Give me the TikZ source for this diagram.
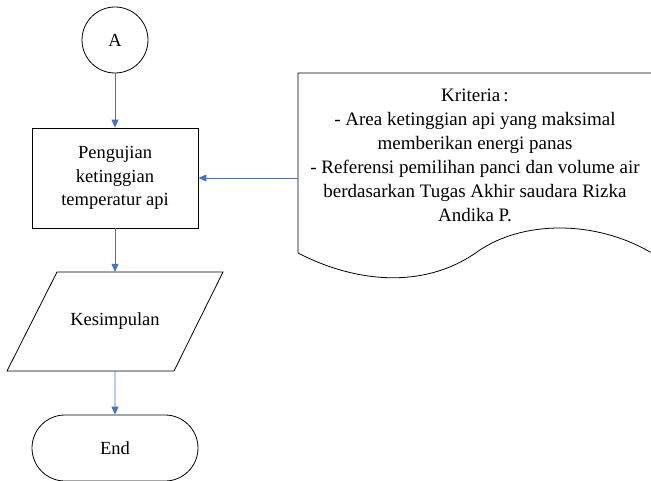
\documentclass[tikz,border=0pt]{standalone}
\usepackage{fontspec}
\setmainfont{Liberation Serif}
\usetikzlibrary{arrows.meta,shapes.geometric,shapes.misc}
\definecolor{arrowblue}{RGB}{68,114,196}
\tikzset{
  shapeline/.style={draw=black, line width=0.8pt},
  flowarrow/.style={draw=arrowblue, line width=0.9pt, -{Triangle[length=8pt,width=7pt]}},
  txt/.style={font=\fontsize{18.5}{23.5}\selectfont, align=center, inner sep=0pt},
}
\begin{document}
\begin{tikzpicture}[x=1pt,y=-1pt]
\useasboundingbox (0,0) rectangle (651,481);
% connector A
\node[shapeline, circle, minimum size=66pt, inner sep=0pt, txt] (A) at (115,40) {A};
% process box
\node[shapeline, rectangle, minimum width=166pt, minimum height=100pt, txt] (proc) at (115,178) {Pengujian\\ketinggian\\temperatur api};
% parallelogram (drawn), text node gives anchors
\draw[shapeline] (57,272) -- (223,272) -- (174,371) -- (7,371) -- cycle;
\node[rectangle, minimum width=166pt, minimum height=99pt, txt] (kes) at (115,321.5) {Kesimpulan};
% terminator
\node[shapeline, rounded rectangle, minimum width=166pt, minimum height=66pt, txt] (end) at (115,448) {End};
% document shape
\draw[shapeline] (298,253) -- (298,73) -- (653,73) -- (653,252) -- (650,252)
  .. controls (595,220) and (522,220) .. (477,252)
  .. controls (420,292) and (350,280) .. (298,253);
\node[rectangle, minimum width=352pt, minimum height=180pt, inner sep=0pt] (crit) at (474,163) {};
\node[txt, font=\fontsize{19}{24}\selectfont] (crittext) at (475,155) {Kriteria\,:\\- Area ketinggian api yang maksimal\\memberikan energi panas\\- Referensi pemilihan panci dan volume air\\berdasarkan Tugas Akhir saudara Rizka\\Andika P.};
% connectors
\draw[flowarrow] (A) -- (proc);
\draw[flowarrow] (proc) -- (kes);
\draw[flowarrow] (kes) -- (end);
\draw[flowarrow] (crit.west |- proc.east) -- (proc.east);
\end{tikzpicture}
\end{document}
